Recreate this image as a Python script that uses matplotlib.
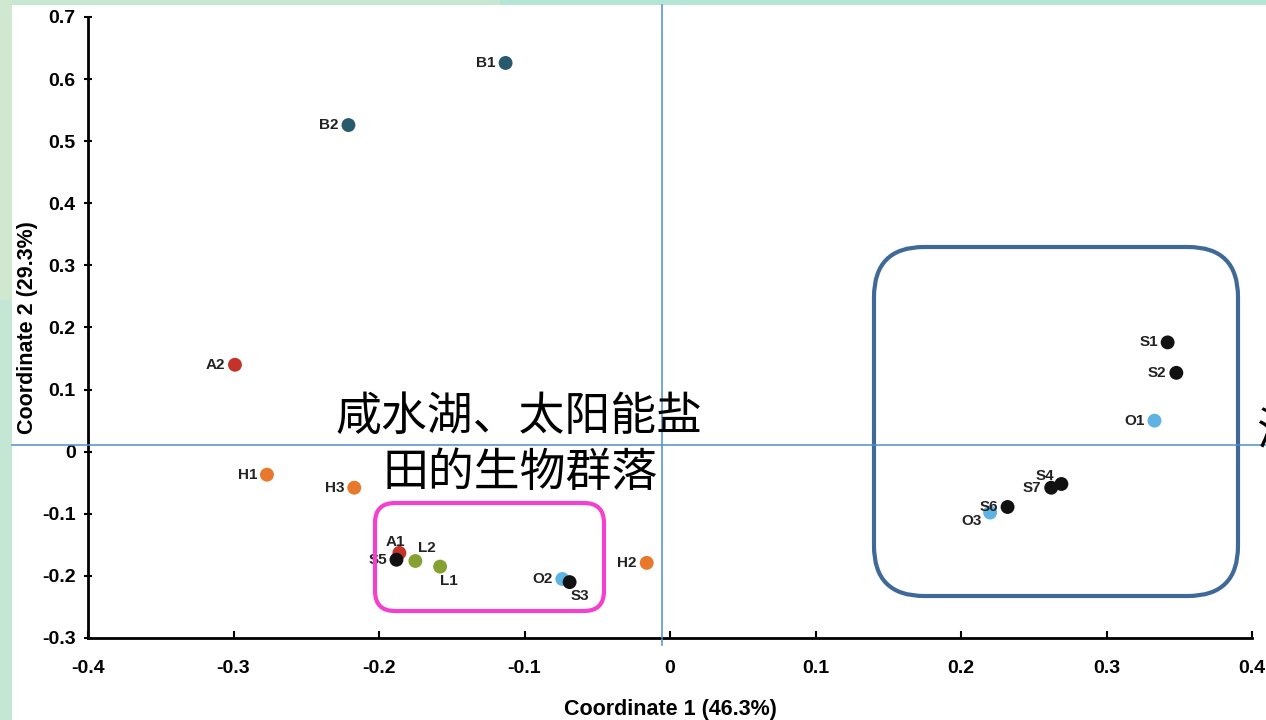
import matplotlib.pyplot as plt
from matplotlib.patches import FancyBboxPatch, Rectangle

# sample scores on the first two coordinates
names = ["B1", "B2", "A2", "H1", "H3", "A1", "S5", "L2", "L1", "O2", "S3", "H2",
         "S1", "S2", "O1", "S4", "S7", "S6", "O3"]
coord1 = [-0.113, -0.221, -0.299, -0.277, -0.217, -0.186, -0.188, -0.175, -0.158,
          -0.074, -0.069, -0.016, 0.342, 0.348, 0.333, 0.269, 0.262, 0.232, 0.220]
coord2 = [0.626, 0.526, 0.140, -0.037, -0.058, -0.163, -0.174, -0.176, -0.185,
          -0.205, -0.210, -0.179, 0.176, 0.127, 0.050, -0.052, -0.058, -0.089, -0.098]
groups = [n[0] for n in names]

xticks = [-0.4, -0.3, -0.2, -0.1, 0, 0.1, 0.2, 0.3, 0.4]
yticks = [-0.3, -0.2, -0.1, 0, 0.1, 0.2, 0.3, 0.4, 0.5, 0.6, 0.7]
xlabel = "Coordinate 1 (46.3%)"
ylabel = "Coordinate 2 (29.3%)"
note_lines = ["咸水湖、太阳能盐", "田的生物群落"]

colors = {"B": "#265a6c", "A": "#c3332a", "H": "#e8782c", "L": "#87a032",
          "O": "#5eb3e2", "S": "#111111"}
# label offset in points (dx, dy, ha, va)
offsets = {"S3": (1, -5, "left", "top"), "L1": (0, -5, "left", "top"),
           "L2": (2, 4, "left", "bottom"), "A1": (4, 3, "right", "bottom"),
           "S4": (-5, 1, "right", "bottom"), "O3": (-6, -1, "right", "top")}

plt.rcParams['font.family'] = ['Liberation Sans', 'DejaVu Sans']

fig = plt.figure(figsize=(12.66, 7.2), dpi=100)
fig.patch.set_facecolor("white")

ax = fig.add_axes([88 / 1266, 82 / 720, 1164 / 1266, 621 / 720])
ax.set_facecolor("none")
for g in ["B", "A", "H", "L", "O", "S"]:
    xs = [x for x, gg in zip(coord1, groups) if gg == g]
    ys = [y for y, gg in zip(coord2, groups) if gg == g]
    ax.scatter(xs, ys, s=100, color=colors[g], edgecolors="none", zorder=3)

for n, x, y in zip(names, coord1, coord2):
    dx, dy, ha, va = offsets.get(n, (-7, 0, "right", "center"))
    ax.annotate(n, (x, y), xytext=(dx, dy), textcoords="offset points",
                ha=ha, va=va, fontsize=11, fontweight="bold", color="#222222")

ax.set_xlim(-0.4, 0.4)
ax.set_ylim(-0.3, 0.7)
ax.set_xticks(xticks)
ax.set_xticklabels([("%g" % t) for t in xticks], fontsize=14, fontweight="bold")
ax.set_yticks(yticks)
ax.set_yticklabels([("%g" % t) for t in yticks], fontsize=14, fontweight="bold")
ax.tick_params(axis="x", direction="in", length=5, width=1.5, pad=16)
ax.tick_params(axis="y", direction="inout", length=6, width=1.5, pad=6)
for side in ["top", "right"]:
    ax.spines[side].set_visible(False)
for side in ["left", "bottom"]:
    ax.spines[side].set_linewidth(2)
ax.set_xlabel(xlabel, fontsize=15.5, fontweight="bold", labelpad=16)
ax.set_ylabel(ylabel, fontsize=15.5, fontweight="bold", labelpad=3)

# slide overlay in pixel coordinates
ov = fig.add_axes([0, 0, 1, 1], zorder=5)
ov.set_xlim(0, 1266)
ov.set_ylim(720, 0)
ov.axis("off")
ov.patch.set_alpha(0)

ov.add_patch(Rectangle((0, 0), 1266, 5, color="#b4e6d6", lw=0))
ov.add_patch(Rectangle((0, 0), 500, 5, color="#c6e8d2", lw=0))
ov.add_patch(Rectangle((0, 0), 12, 720, color="#c4e6d4", lw=0))
ov.add_patch(Rectangle((0, 0), 12, 300, color="#cfe8cf", lw=0))

ov.plot([662, 662], [5, 645], color="#4b8fd0", lw=1.1)
ov.plot([12, 1266], [445, 445], color="#4b8fd0", lw=1.1)

ov.add_patch(FancyBboxPatch((375, 503), 229, 108,
                            boxstyle="round,pad=0,rounding_size=20",
                            fill=False, ec="#f53fcf", lw=3))
ov.add_patch(FancyBboxPatch((874, 247), 364, 349,
                            boxstyle="round,pad=0,rounding_size=50",
                            fill=False, ec="#3f6a98", lw=3))

cjk = ['Noto Sans CJK SC', 'DejaVu Sans']
ov.text(519, 417, note_lines[0], family=cjk, fontsize=33, ha="center", va="center")
ov.text(520, 473, note_lines[1], family=cjk, fontsize=33, ha="center", va="center")
ov.text(1256, 432, "海", family=cjk, fontsize=33, ha="left", va="center", clip_on=False)

fig.savefig("out.png", dpi=100, facecolor=fig.get_facecolor())
